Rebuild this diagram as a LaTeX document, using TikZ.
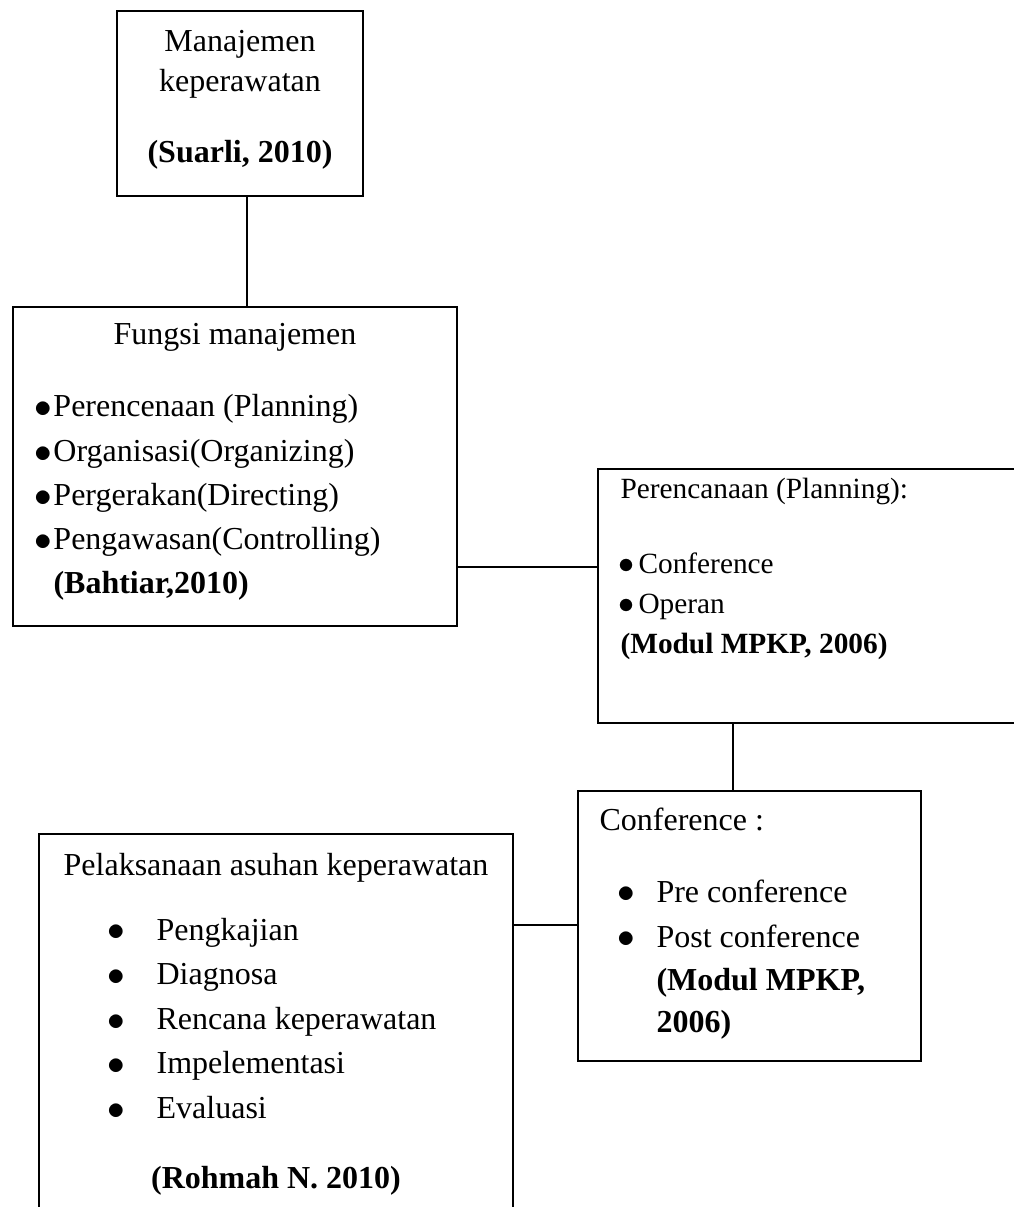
\documentclass[tikz,border=0pt]{standalone}
\usepackage{fontspec}
\usepackage{graphicx}
\setmainfont{Liberation Serif}
\usetikzlibrary{fit}

\newcommand\bul[1]{\makebox[#1][l]{\raisebox{-0.03em}{\scalebox{1.1}{$\bullet$}}}}

\tikzset{
  box/.style={draw, line width=1pt, inner sep=0pt},
  link/.style={line width=1pt},
  txt/.style={inner sep=0pt, anchor=base west, font=\fontsize{12}{14}\selectfont},
  ctxt/.style={txt, anchor=base},
  smalltxt/.style={txt, font=\fontsize{11}{13}\selectfont}
}

\begin{document}
\begin{tikzpicture}[x=0.375pt, y=-0.375pt]
  \useasboundingbox (0,0) rectangle (1013,1207);

  % boxes
  \node[box, fit={(117,11) (363,196)}] (mk) {};
  \node[box, fit={(13,307) (457,626)}] (fm) {};
  \node[box, fit={(598,469) (1040,723)}] (plan) {};
  \node[box, fit={(578,791) (921,1061)}] (conf) {};
  \node[box, fit={(39,834) (513,1240)}] (asuhan) {};

  % manajemen keperawatan
  \node[ctxt] (mk1) at (240,52) {Manajemen};
  \node[ctxt] (mk2) at (240,92) {keperawatan};
  \node[ctxt] (mkref) at (240,163) {\bfseries (Suarli, 2010)};

  % fungsi manajemen
  \node[ctxt] (fmhead) at (235,345) {Fungsi manajemen};
  \foreach \t [count=\i] in {Perencenaan (Planning), Organisasi(Organizing),
      Pergerakan(Directing), Pengawasan(Controlling)}
    \node[txt] (fm\i) at (34,{417+44.3*(\i-1)}) {\bul{7.1pt}\t};
  \node[txt] (fmref) at (53,593) {\bfseries (Bahtiar,2010)};

  % perencanaan
  \node[smalltxt] (planhead) at (620,498) {Perencanaan (Planning):};
  \foreach \t [count=\i] in {Conference, Operan}
    \node[smalltxt] (plan\i) at (618,{573+40*(\i-1)}) {\bul{7.5pt}\t};
  \node[smalltxt] (planref) at (620,653) {\bfseries (Modul MPKP, 2006)};

  % conference
  \node[txt] (confhead) at (599,830) {Conference :};
  \foreach \t [count=\i] in {Pre conference, Post conference}
    \node[txt] (conf\i) at (616.5,{902+45*(\i-1)}) {\bul{14.8pt}\t};
  \node[txt] (confref1) at (656,990) {\bfseries (Modul MPKP,};
  \node[txt] (confref2) at (656,1032) {\bfseries 2006)};

  % asuhan keperawatan
  \node[ctxt] (ashead) at (276,875) {Pelaksanaan asuhan keperawatan};
  \foreach \t [count=\i] in {Pengkajian, Diagnosa, Rencana keperawatan,
      Impelementasi, Evaluasi}
    \node[txt] (as\i) at (106.5,{940+44.6*(\i-1)}) {\bul{18.6pt}\t};
  \node[ctxt] (asref) at (276,1188) {\bfseries (Rohmah N. 2010)};

  % connectors
  \coordinate (k1) at (247,0);
  \coordinate (k2) at (0,567);
  \coordinate (k3) at (733,0);
  \coordinate (k4) at (0,925);
  \draw[link] (mk.south -| k1) -- (fm.north -| k1);
  \draw[link] (fm.east |- k2) -- (plan.west |- k2);
  \draw[link] (plan.south -| k3) -- (conf.north -| k3);
  \draw[link] (asuhan.east |- k4) -- (conf.west |- k4);
\end{tikzpicture}
\end{document}
